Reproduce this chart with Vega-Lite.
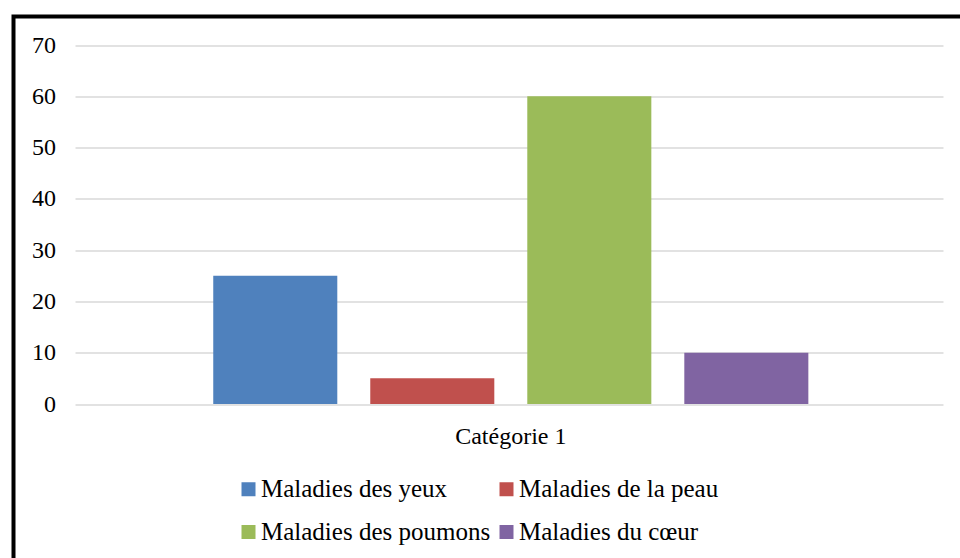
{
  "$schema": "https://vega.github.io/schema/vega-lite/v6.json",
  "autosize": {"type": "none"},
  "padding": {"left": 13.5, "top": 16.5, "right": 0, "bottom": 0},
  "width": 946.5,
  "height": 541.5,
  "background": "white",
  "config": {
    "font": "Liberation Serif",
    "view": {"stroke": "black", "strokeWidth": 4, "strokeDash": [946.5, 1488, 541.5], "strokeCap": "square"}
  },
  "data": {
    "values": [
      {"categorie": "Catégorie 1", "serie": "Maladies des yeux", "valeur": 25},
      {"categorie": "Catégorie 1", "serie": "Maladies de la peau", "valeur": 5},
      {"categorie": "Catégorie 1", "serie": "Maladies des poumons", "valeur": 60},
      {"categorie": "Catégorie 1", "serie": "Maladies du cœur", "valeur": 10}
    ]
  },
  "mark": {"type": "bar"},
  "encoding": {
    "x": {
      "field": "categorie",
      "type": "nominal",
      "scale": {"range": [61.5, 929.5], "paddingInner": 0, "paddingOuter": 0.191, "align": 0.5075},
      "axis": {"title": null, "orient": "bottom", "offset": -154, "domain": false, "ticks": false, "tickSize": 0, "labelPadding": 20, "labelFont": "Liberation Serif", "labelFontSize": 24, "labelColor": "black", "labelAngle": 0, "grid": false}
    },
    "xOffset": {
      "field": "serie",
      "type": "nominal",
      "sort": ["Maladies des yeux", "Maladies de la peau", "Maladies des poumons", "Maladies du cœur"],
      "scale": {"paddingInner": 0.21, "paddingOuter": 0.105}
    },
    "y": {
      "field": "valeur",
      "type": "quantitative",
      "scale": {"domain": [0, 70], "range": [387.5, 28.5], "nice": false},
      "axis": {"title": null, "values": [0, 10, 20, 30, 40, 50, 60, 70], "offset": -42, "domain": false, "ticks": false, "tickSize": 0, "labelPadding": 0, "labelFont": "Liberation Serif", "labelFontSize": 24, "labelColor": "black", "grid": true, "gridColor": "#d9d9d9", "gridWidth": 1.5}
    },
    "color": {
      "field": "serie",
      "type": "nominal",
      "scale": {
        "domain": ["Maladies des yeux", "Maladies des poumons", "Maladies de la peau", "Maladies du cœur"],
        "range": ["#4F81BD", "#9BBB59", "#C0504D", "#8064A2"]
      },
      "legend": {"orient": "none", "legendX": 222.5, "legendY": 460, "columns": 2, "title": null, "symbolType": "square", "symbolSize": 196, "symbolStrokeWidth": 0, "labelFont": "Liberation Serif", "labelFontSize": 25, "labelColor": "black", "labelOffset": 0, "columnPadding": 3, "rowPadding": 17, "padding": 0, "labelLimit": 400}
    }
  }
}
